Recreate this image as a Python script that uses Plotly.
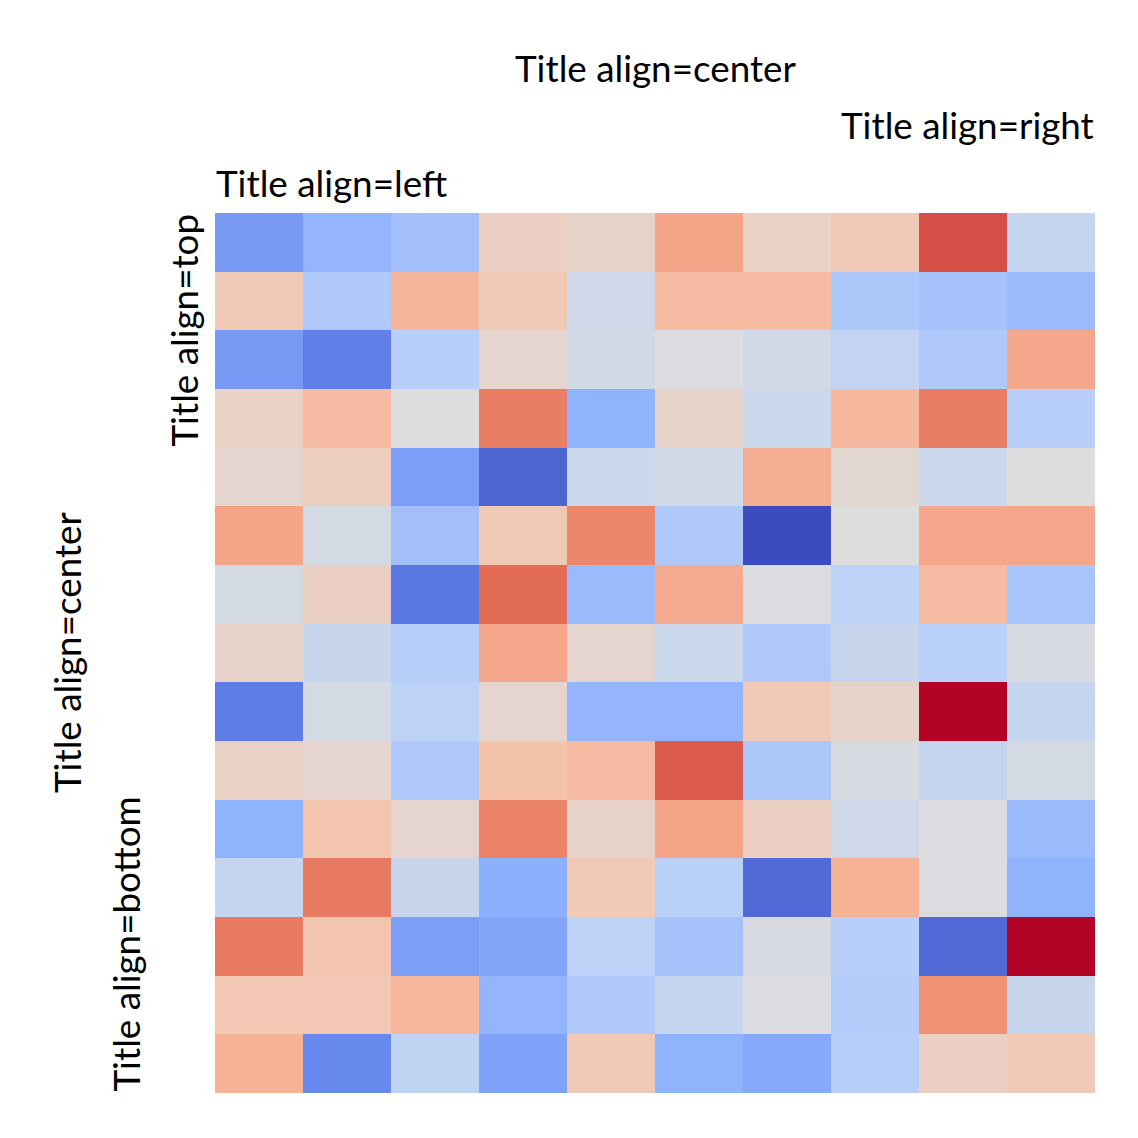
import plotly.graph_objects as go

cols = list(range(10))
rows = list(range(15))

values = [
    [0.19, 0.27, 0.31, 0.57, 0.55, 0.72, 0.56, 0.60, 0.90, 0.42],
    [0.60, 0.35, 0.67, 0.60, 0.45, 0.65, 0.65, 0.34, 0.32, 0.29],
    [0.19, 0.12, 0.375, 0.54, 0.46, 0.49, 0.46, 0.41, 0.35, 0.71],
    [0.56, 0.65, 0.50, 0.81, 0.26, 0.55, 0.44, 0.66, 0.81, 0.375],
    [0.54, 0.58, 0.20, 0.06, 0.44, 0.46, 0.69, 0.53, 0.44, 0.50],
    [0.72, 0.47, 0.31, 0.60, 0.79, 0.35, 0.00, 0.50, 0.71, 0.71],
    [0.47, 0.57, 0.10, 0.85, 0.29, 0.70, 0.49, 0.39, 0.65, 0.33],
    [0.55, 0.43, 0.37, 0.71, 0.54, 0.44, 0.35, 0.43, 0.38, 0.48],
    [0.11, 0.47, 0.39, 0.54, 0.27, 0.27, 0.60, 0.55, 1.00, 0.42],
    [0.56, 0.54, 0.35, 0.63, 0.65, 0.88, 0.34, 0.48, 0.42, 0.47],
    [0.26, 0.62, 0.54, 0.80, 0.55, 0.72, 0.57, 0.45, 0.49, 0.29],
    [0.42, 0.82, 0.43, 0.25, 0.60, 0.38, 0.07, 0.68, 0.49, 0.26],
    [0.82, 0.62, 0.20, 0.22, 0.39, 0.32, 0.48, 0.375, 0.07, 1.00],
    [0.61, 0.61, 0.66, 0.27, 0.35, 0.42, 0.49, 0.36, 0.77, 0.43],
    [0.68, 0.14, 0.40, 0.21, 0.60, 0.26, 0.23, 0.37, 0.57, 0.60],
]

coolwarm = [
    [0.0, "rgb(59,76,192)"],
    [0.125, "rgb(98,130,234)"],
    [0.25, "rgb(141,176,254)"],
    [0.375, "rgb(184,208,249)"],
    [0.5, "rgb(221,221,221)"],
    [0.625, "rgb(245,196,173)"],
    [0.75, "rgb(244,154,123)"],
    [0.875, "rgb(222,96,77)"],
    [1.0, "rgb(180,4,38)"],
]

fig = go.Figure(go.Heatmap(
    z=values, x=cols, y=rows, colorscale=coolwarm, zmin=0, zmax=1,
    showscale=False, hoverinfo="skip", xgap=0, ygap=0,
))

font = dict(family="Lato", size=36.8, color="black")
L, T, W = 215, 213, 880

def px(x):
    return (x - L) / W

def py(y):
    return (T + W - y) / W

anns = [
    dict(text="Title align=center", x=0.5, y=py(68), xanchor="center", yanchor="middle"),
    dict(text="Title align=right", x=1.0, y=py(125), xanchor="right", yanchor="middle"),
    dict(text="Title align=left", x=0.0, y=py(183), xanchor="left", yanchor="middle"),
    dict(text="Title align=top", x=px(183), y=1.0, xanchor="center", yanchor="top", textangle=-90),
    dict(text="Title align=center", x=px(67), y=0.5, xanchor="center", yanchor="middle", textangle=-90),
    dict(text="Title align=bottom", x=px(125), y=0.0, xanchor="center", yanchor="bottom", textangle=-90),
]
for a in anns:
    a.update(xref="paper", yref="paper", showarrow=False, font=font, borderpad=0)

fig.update_layout(
    width=1138, height=1138,
    margin=dict(l=215, r=43, t=213, b=45),
    paper_bgcolor="white", plot_bgcolor="white",
    xaxis=dict(visible=False, range=[-0.5, 9.5]),
    yaxis=dict(visible=False, autorange="reversed"),
    annotations=anns,
)

fig.write_html("out.html")
